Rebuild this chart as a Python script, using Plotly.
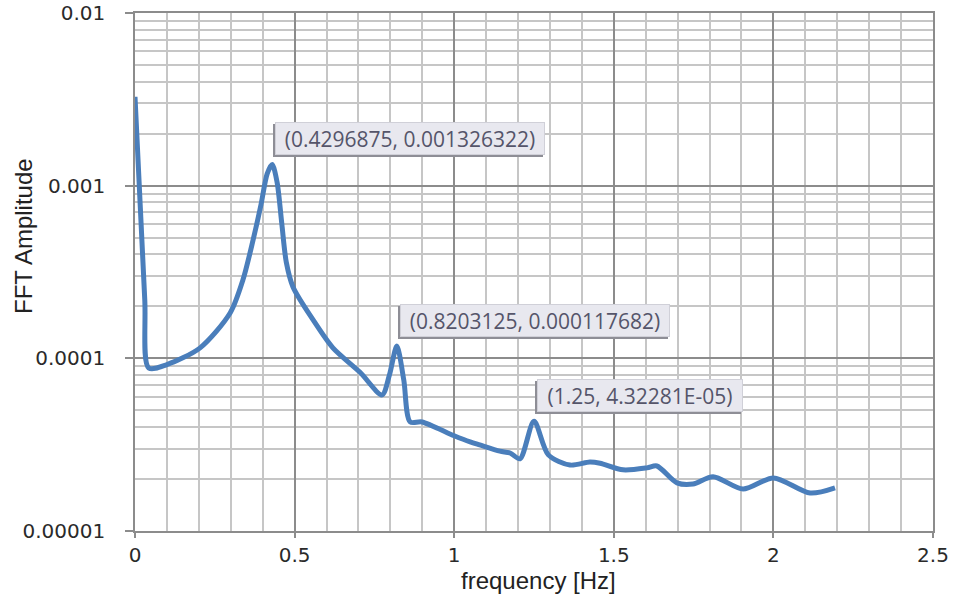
import math
import plotly.graph_objects as go

# Frequency [Hz] and FFT amplitude
freq = [0.0, 0.0306, 0.043, 0.100, 0.204, 0.298, 0.338, 0.370, 0.395,
        0.414, 0.4296875, 0.445, 0.460, 0.474, 0.495, 0.558, 0.620, 0.705, 0.774,
        0.797, 0.8203125, 0.842, 0.862, 0.899, 1.000, 1.050, 1.080, 1.143, 1.175,
        1.206, 1.25, 1.295, 1.363, 1.425, 1.457, 1.529, 1.604, 1.635, 1.698,
        1.748, 1.811, 1.905, 2.000, 2.115, 2.193]
amp = [3.27e-3, 2.18e-4, 8.8e-5, 9.2e-5, 1.15e-4, 1.83e-4, 2.84e-4, 4.85e-4, 7.8e-4,
       1.17e-3, 1.326322e-3, 1.05e-3, 6.0e-4, 3.6e-4, 2.59e-4, 1.67e-4, 1.15e-4, 8.3e-5, 6.14e-5,
       8.0e-5, 1.17682e-4, 7.5e-5, 4.28e-5, 4.28e-5, 3.56e-5, 3.28e-5, 3.15e-5, 2.9e-5, 2.83e-5,
       2.62e-5, 4.32281e-5, 2.76e-5, 2.41e-5, 2.51e-5, 2.47e-5, 2.26e-5, 2.32e-5, 2.38e-5, 1.90e-5,
       1.87e-5, 2.06e-5, 1.75e-5, 2.03e-5, 1.66e-5, 1.78e-5]

peak_x = [0.4296875, 0.8203125, 1.25]
peak_y = [0.001326322, 0.000117682, 4.32281e-05]
peak_labels = ["(0.4296875, 0.001326322)", "(0.8203125, 0.000117682)", "(1.25, 4.32281E-05)"]
peak_widths = [266, 266, 202]

x_ticks = [0, 0.5, 1, 1.5, 2, 2.5]
x_tick_text = ["0", "0.5", "1", "1.5", "2", "2.5"]
y_ticks = [1e-5, 1e-4, 1e-3, 1e-2]
y_tick_text = ["0.00001", "0.0001", "0.001", "0.01"]

fig = go.Figure()
fig.add_trace(go.Scatter(
    x=freq, y=amp, mode="lines",
    line=dict(color="#4a7ebb", width=5, shape="spline", smoothing=0.8),
    showlegend=False, hoverinfo="skip"))

for px_, py_, lab, w in zip(peak_x, peak_y, peak_labels, peak_widths):
    # shadow box (left / bottom edge)
    fig.add_annotation(
        x=px_, y=math.log10(py_), xref="x", yref="y", yanchor="bottom", xanchor="left",
        text=" ", showarrow=False, xshift=1, yshift=7,
        width=w, height=29, borderpad=1,
        bgcolor="#8e8e96", bordercolor="#8e8e96", borderwidth=1,
        font=dict(family="Open Sans", size=21))
    fig.add_annotation(
        x=px_, y=math.log10(py_), xref="x", yref="y", yanchor="bottom", xanchor="left",
        text=lab, showarrow=False, xshift=3, yshift=9,
        width=w, height=29, align="center", borderpad=1,
        bgcolor="#e8e8ef", bordercolor="#d0d0d8", borderwidth=1,
        font=dict(family="Open Sans", size=21, color="#55556a"))

fig.add_annotation(text="FFT Amplitude", xref="paper", yref="paper",
                   x=(23 - 135) / 798, y=(531 - 236) / 518, textangle=-90,
                   showarrow=False, xanchor="center", yanchor="middle",
                   font=dict(family="Liberation Sans", size=24, color="#222222"))
fig.add_annotation(text="frequency [Hz]", xref="paper", yref="paper",
                   x=(538 - 135) / 798, y=-(580 - 531) / 518,
                   showarrow=False, xanchor="center", yanchor="middle",
                   font=dict(family="Liberation Sans", size=24, color="#222222"))

tick_font = dict(family="DejaVu Sans", size=20, color="#2a2a2a")

fig.update_xaxes(
    range=[0, 2.5], tickvals=x_ticks, ticktext=x_tick_text,
    showgrid=True, gridcolor="#8c8c8c", gridwidth=1.5,
    minor=dict(dtick=0.1, showgrid=True, gridcolor="#c6c6c6", gridwidth=1.5),
    showline=True, linecolor="#8c8c8c", linewidth=1.5, mirror=True,
    ticks="outside", ticklen=5, tickcolor="#8c8c8c", tickwidth=1.5,
    tickfont=tick_font, zeroline=False, ticklabelstandoff=0, automargin=False)

fig.update_yaxes(
    type="log", range=[-5, -2], tickvals=y_ticks, ticktext=y_tick_text,
    showgrid=True, gridcolor="#8c8c8c", gridwidth=1.5,
    minor=dict(dtick="D1", showgrid=True, gridcolor="#c6c6c6", gridwidth=1.5),
    showline=True, linecolor="#8c8c8c", linewidth=1.5, mirror=True,
    ticks="outside", ticklen=8, tickcolor="#8c8c8c", tickwidth=1.5,
    tickfont=tick_font, zeroline=False, ticklabelstandoff=16, automargin=False)

fig.update_layout(
    width=953, height=601,
    margin=dict(l=135, r=20, t=13, b=70, autoexpand=False),
    paper_bgcolor="white", plot_bgcolor="white",
)

fig.write_html("out.html")
